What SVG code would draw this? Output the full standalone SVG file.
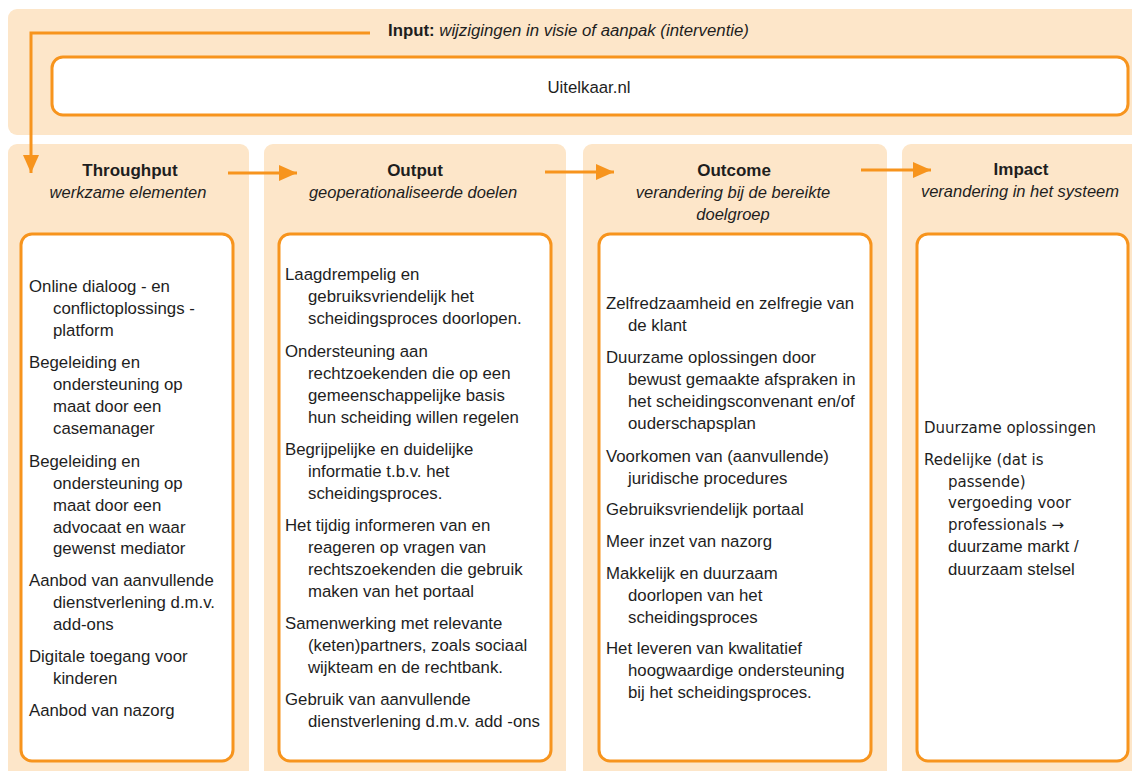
<svg xmlns="http://www.w3.org/2000/svg" width="1132" height="771" viewBox="0 0 1132 771">
<defs>
<style>
.panel{fill:#FDE6C9;}
.box{fill:#FFFFFF;stroke:#F7941D;stroke-width:3;}
.con{stroke:#F7941D;stroke-width:3;fill:none;}
.t{font-family:"Liberation Sans",Arial,sans-serif;font-size:16.8px;fill:#1E1E1E;}
.v{font-family:"DejaVu Sans",Verdana,sans-serif;font-size:15px;fill:#1E1E1E;}
.h{font-family:"Liberation Sans",Arial,sans-serif;font-size:17px;font-weight:bold;fill:#1E1E1E;text-anchor:middle;}
.s{font-family:"Liberation Sans",Arial,sans-serif;font-size:16.5px;font-style:italic;fill:#1E1E1E;text-anchor:middle;}
</style>
<marker id="ah" markerUnits="userSpaceOnUse" markerWidth="18" markerHeight="16" refX="18" refY="8" orient="auto">
<path d="M0,0 L18,8 L0,16 Z" fill="#F7941D"/>
</marker>
</defs>
<rect width="1132" height="771" fill="#FFFFFF"/>

<g id="input">
<rect class="panel" x="8" y="9" width="1134" height="126" rx="9"/>
<text x="388" y="36" font-family="Liberation Sans, Arial, sans-serif" font-size="16.8" fill="#1E1E1E"><tspan font-weight="bold">Input:</tspan> <tspan font-style="italic">wijzigingen in visie of aanpak (interventie)</tspan></text>
<rect class="box" x="52" y="57" width="1076" height="58" rx="11"/>
<text class="t" x="589" y="93" text-anchor="middle">Uitelkaar.nl</text>
</g>

<g id="throughput">
<rect class="panel" x="8" y="144" width="241" height="640" rx="9"/>
<text class="h" x="130" y="176">Throughput</text>
<text class="s" x="128" y="198">werkzame elementen</text>
<rect class="box" x="21" y="234" width="212" height="527" rx="11"/>
<text class="t">
<tspan x="29" y="292">Online dialoog - en</tspan>
<tspan x="53" y="314">conflictoplossings -</tspan>
<tspan x="53" y="336">platform</tspan>
<tspan x="29" y="368">Begeleiding en</tspan>
<tspan x="53" y="390">ondersteuning op</tspan>
<tspan x="53" y="412">maat door een</tspan>
<tspan x="53" y="434">casemanager</tspan>
<tspan x="29" y="467">Begeleiding en</tspan>
<tspan x="53" y="489">ondersteuning op</tspan>
<tspan x="53" y="511">maat door een</tspan>
<tspan x="53" y="533">advocaat en waar</tspan>
<tspan x="53" y="554">gewenst mediator</tspan>
<tspan x="29" y="586">Aanbod van aanvullende</tspan>
<tspan x="53" y="608">dienstverlening d.m.v.</tspan>
<tspan x="53" y="630">add-ons</tspan>
<tspan x="29" y="662">Digitale toegang voor</tspan>
<tspan x="53" y="684">kinderen</tspan>
<tspan x="29" y="716">Aanbod van nazorg</tspan>
</text>
</g>

<g id="output">
<rect class="panel" x="264" y="144" width="302" height="640" rx="9"/>
<text class="h" x="415" y="176">Output</text>
<text class="s" x="413" y="198">geoperationaliseerde doelen</text>
<rect class="box" x="279" y="234" width="272" height="527" rx="11"/>
<text class="t">
<tspan x="285" y="280">Laagdrempelig en</tspan>
<tspan x="308" y="302">gebruiksvriendelijk het</tspan>
<tspan x="308" y="324">scheidingsproces doorlopen.</tspan>
<tspan x="285" y="357">Ondersteuning aan</tspan>
<tspan x="308" y="379">rechtzoekenden die op een</tspan>
<tspan x="308" y="401">gemeenschappelijke basis</tspan>
<tspan x="308" y="423">hun scheiding willen regelen</tspan>
<tspan x="285" y="455">Begrijpelijke en duidelijke</tspan>
<tspan x="308" y="477">informatie t.b.v. het</tspan>
<tspan x="308" y="499">scheidingsproces.</tspan>
<tspan x="285" y="531">Het tijdig informeren van en</tspan>
<tspan x="308" y="553">reageren op vragen van</tspan>
<tspan x="308" y="575">rechtszoekenden die gebruik</tspan>
<tspan x="308" y="597">maken van het portaal</tspan>
<tspan x="285" y="629">Samenwerking met relevante</tspan>
<tspan x="308" y="651">(keten)partners, zoals sociaal</tspan>
<tspan x="308" y="673">wijkteam en de rechtbank.</tspan>
<tspan x="285" y="705">Gebruik van aanvullende</tspan>
<tspan x="308" y="727">dienstverlening d.m.v. add -ons</tspan>
</text>
</g>

<g id="outcome">
<rect class="panel" x="583" y="144" width="304" height="640" rx="9"/>
<text class="h" x="734" y="176">Outcome</text>
<text class="s" x="733" y="198">verandering bij de bereikte</text>
<text class="s" x="733" y="220">doelgroep</text>
<rect class="box" x="599" y="234" width="272" height="527" rx="11"/>
<text class="t">
<tspan x="606" y="309">Zelfredzaamheid en zelfregie van</tspan>
<tspan x="628" y="331">de klant</tspan>
<tspan x="606" y="363">Duurzame oplossingen door</tspan>
<tspan x="628" y="385">bewust gemaakte afspraken in</tspan>
<tspan x="628" y="407">het scheidingsconvenant en/of</tspan>
<tspan x="628" y="429">ouderschapsplan</tspan>
<tspan x="606" y="462">Voorkomen van (aanvullende)</tspan>
<tspan x="628" y="484">juridische procedures</tspan>
<tspan x="606" y="515">Gebruiksvriendelijk portaal</tspan>
<tspan x="606" y="547">Meer inzet van nazorg</tspan>
<tspan x="606" y="579">Makkelijk en duurzaam</tspan>
<tspan x="628" y="601">doorlopen van het</tspan>
<tspan x="628" y="623">scheidingsproces</tspan>
<tspan x="606" y="654">Het leveren van kwalitatief</tspan>
<tspan x="628" y="676">hoogwaardige ondersteuning</tspan>
<tspan x="628" y="698">bij het scheidingsproces.</tspan>
</text>
</g>

<g id="impact">
<rect class="panel" x="902" y="144" width="240" height="640" rx="9"/>
<text class="h" x="1021" y="175">Impact</text>
<text class="s" x="1020" y="197">verandering in het systeem</text>
<rect class="box" x="917" y="234" width="211" height="527" rx="11"/>
<text class="v">
<tspan x="924" y="433">Duurzame oplossingen</tspan>
<tspan x="924" y="465">Redelijke (dat is</tspan>
<tspan x="948" y="487">passende)</tspan>
<tspan x="948" y="508">vergoeding voor</tspan>
<tspan x="948" y="530">professionals →</tspan>
</text>
<text class="t">
<tspan x="948" y="552">duurzame markt /</tspan>
<tspan x="948" y="575">duurzaam stelsel</tspan>
</text>
</g>

<g id="connectors">
<path class="con" d="M370,33 H31 V173" marker-end="url(#ah)"/>
<line class="con" x1="228" y1="173" x2="297" y2="173" marker-end="url(#ah)"/>
<line class="con" x1="545" y1="172" x2="614" y2="172" marker-end="url(#ah)"/>
<line class="con" x1="861" y1="170" x2="931" y2="170" marker-end="url(#ah)"/>
</g>
</svg>
